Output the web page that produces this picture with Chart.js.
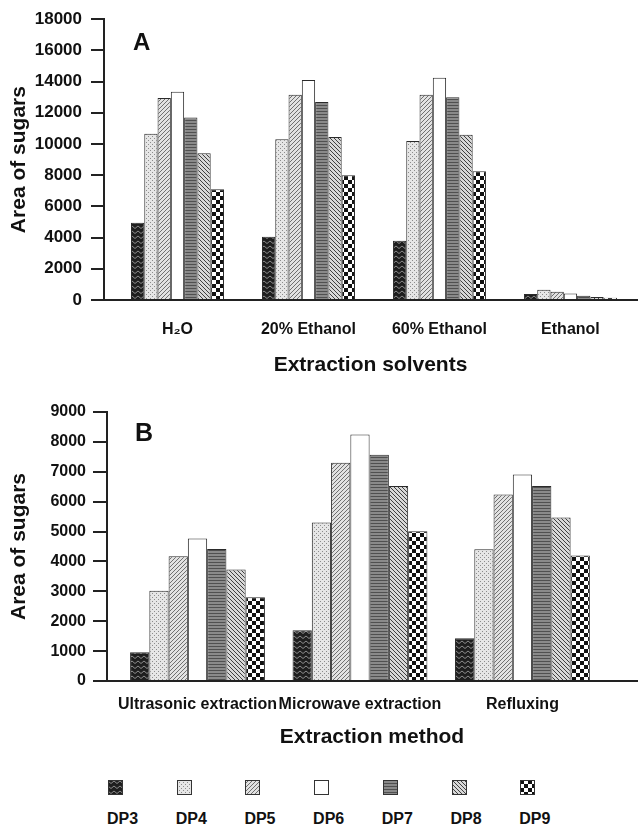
<!DOCTYPE html>
<html lang="en">
<head>
<meta charset="utf-8">
<title>Area of sugars - extraction solvents and methods</title>
<script src="https://cdn.jsdelivr.net/npm/chart.js@4.4.1/dist/chart.umd.min.js"></script>
<style>
  body { margin: 0; background: #fff; }
  #page { position: relative; width: 639px; height: 826px; font-family: "Liberation Sans", Arial, Helvetica, sans-serif; color: #111; }
  canvas { display: block; }
  .panel { position: absolute; font-weight: bold; line-height: 1; }
  #legend { position: absolute; left: 0; top: 750px; width: 639px; height: 76px; }
  .item { position: absolute; top: 30px; width: 40px; height: 46px; }
  .item span { position: absolute; left: -1px; top: 31px; font-weight: bold; font-size: 16px; line-height: 16px; white-space: nowrap; }
</style>
</head>
<body>
<div id="page">
  <canvas id="chart-a" width="639" height="385"></canvas>
  <canvas id="chart-b" width="639" height="365"></canvas>
  <div class="panel" style="left:133px; top:30px; font-size:24px;">A</div>
  <div class="panel" style="left:135px; top:420px; font-size:25px;">B</div>
  <div id="legend"></div>
</div>
<script>
// Categorías y series
const solvents = ['H\u2082O', '20% Ethanol', '60% Ethanol', 'Ethanol'];
const methods = ['Ultrasonic extraction', 'Microwave extraction', 'Refluxing'];
const sugarNames = ['DP3', 'DP4', 'DP5', 'DP6', 'DP7', 'DP8', 'DP9'];

// Panel A: un array por oligosacárido, un valor por disolvente
const dp3A = [4950, 4050, 3800, 380];
const dp4A = [10650, 10300, 10200, 650];
const dp5A = [12950, 13150, 13150, 530];
const dp6A = [13350, 14100, 14250, 420];
const dp7A = [11700, 12700, 13000, 280];
const dp8A = [9400, 10450, 10600, 190];
const dp9A = [7100, 8000, 8250, 150];

// Panel B: un valor por método de extracción
const dp3B = [960, 1700, 1430];
const dp4B = [3020, 5300, 4410];
const dp5B = [4170, 7300, 6240];
const dp6B = [4770, 8250, 6910];
const dp7B = [4420, 7570, 6520];
const dp8B = [3730, 6520, 5470];
const dp9B = [2800, 5010, 4200];

const yTicksA = [0, 2000, 4000, 6000, 8000, 10000, 12000, 14000, 16000, 18000];
const yTicksB = [0, 1000, 2000, 3000, 4000, 5000, 6000, 7000, 8000, 9000];

const FONT = '"Liberation Sans", Arial, Helvetica, sans-serif';
Chart.defaults.font.family = FONT;
Chart.defaults.font.weight = 'bold';
Chart.defaults.color = '#111';

/**
 * Crea un patrón de relleno en blanco y negro para las barras.
 */
function makePattern(kind) {
  const c = document.createElement('canvas');
  const g = c.getContext('2d');
  if (kind === 'wave') {
    c.width = 6; c.height = 5;
    g.fillStyle = '#1e1e1e'; g.fillRect(0, 0, 6, 5);
    g.strokeStyle = '#8c8c8c'; g.lineWidth = 1;
    g.beginPath(); g.moveTo(0, 1); g.lineTo(3, 3.5); g.lineTo(6, 1); g.stroke();
  } else if (kind === 'dots') {
    c.width = 4; c.height = 4;
    g.fillStyle = '#e6e6e6'; g.fillRect(0, 0, 4, 4);
    g.fillStyle = '#8c8c8c';
    g.fillRect(0, 0, 1, 1); g.fillRect(2, 2, 1, 1);
  } else if (kind === 'fwd') {
    c.width = 4; c.height = 4;
    g.fillStyle = '#e2e2e2'; g.fillRect(0, 0, 4, 4);
    g.strokeStyle = '#707070'; g.lineWidth = 1;
    g.beginPath(); g.moveTo(-1, 5); g.lineTo(5, -1); g.stroke();
  } else if (kind === 'hlines') {
    c.width = 2; c.height = 3;
    g.fillStyle = '#8a8a8a'; g.fillRect(0, 0, 2, 3);
    g.fillStyle = '#505050'; g.fillRect(0, 0, 2, 1);
  } else if (kind === 'back') {
    c.width = 4; c.height = 4;
    g.fillStyle = '#d8d8d8'; g.fillRect(0, 0, 4, 4);
    g.strokeStyle = '#404040'; g.lineWidth = 1;
    g.beginPath(); g.moveTo(-1, -1); g.lineTo(5, 5); g.stroke();
  } else if (kind === 'check') {
    c.width = 8; c.height = 8;
    g.fillStyle = '#fff'; g.fillRect(0, 0, 8, 8);
    g.fillStyle = '#111';
    g.fillRect(0, 0, 4, 4); g.fillRect(4, 4, 4, 4);
  } else {
    c.width = 2; c.height = 2;
    g.fillStyle = '#fff'; g.fillRect(0, 0, 2, 2);
  }
  return g.createPattern(c, 'repeat');
}

const patternKinds = ['wave', 'dots', 'fwd', 'plain', 'hlines', 'back', 'check'];
const patterns = patternKinds.map(makePattern);

function makeDatasets(seriesList) {
  return seriesList.map((values, i) => ({
    label: sugarNames[i],
    data: values.map((v, k) => ({ x: k + 1, y: v })),
    backgroundColor: patterns[i],
    borderColor: '#2a2a2a',
    borderWidth: 1,
  }));
}

/**
 * Dibuja un diagrama de barras agrupadas con eje x lineal (para poder
 * desplazar los grupos como en la figura original).
 */
function createGroupedBarChart(canvasId, cfg) {
  const ctx = document.getElementById(canvasId).getContext('2d');
  return new Chart(ctx, {
    type: 'bar',
    data: { datasets: makeDatasets(cfg.series) },
    options: {
      responsive: false,
      animation: false,
      devicePixelRatio: 1,
      categoryPercentage: cfg.groupPct,
      barPercentage: 1,
      layout: { padding: { top: cfg.padTop, right: 2, bottom: 0, left: 0 } },
      plugins: { legend: { display: false }, tooltip: { enabled: false } },
      scales: {
        x: {
          type: 'linear',
          offset: false,
          bounds: 'data',
          min: cfg.xMin,
          max: cfg.xMax,
          afterBuildTicks: s => { s.ticks = cfg.labels.map((_, i) => ({ value: i + 1 })); },
          afterFit: s => { s.height = cfg.xHeight; },
          grid: { display: false, drawTicks: false, tickLength: 0 },
          border: { display: true, color: '#222', width: 2 },
          ticks: {
            autoSkip: false,
            maxRotation: 0,
            padding: cfg.xTickPad,
            font: { size: 16, weight: 'bold' },
            color: '#111',
            callback: v => cfg.labels[v - 1],
          },
          title: {
            display: true,
            text: cfg.xTitle,
            font: { size: 21, weight: 'bold' },
            color: '#111',
            padding: { top: 0, bottom: cfg.xTitlePad },
          },
        },
        y: {
          min: 0,
          max: cfg.yTicks[cfg.yTicks.length - 1],
          afterBuildTicks: s => { s.ticks = cfg.yTicks.map(v => ({ value: v })); },
          afterFit: s => { s.width = cfg.yWidth; },
          grid: { drawOnChartArea: false, drawTicks: true, tickLength: cfg.tickLen, color: '#222', lineWidth: 2 },
          border: { display: true, color: '#222', width: 2 },
          ticks: {
            padding: cfg.yTickPad,
            font: { size: cfg.yTickSize, weight: 'bold' },
            color: '#111',
            callback: v => String(v),
          },
          title: {
            display: true,
            text: 'Area of sugars',
            font: { size: 21, weight: 'bold' },
            color: '#111',
            padding: { top: 7, bottom: 0 },
          },
        },
      },
    },
  });
}

createGroupedBarChart('chart-a', {
  labels: solvents,
  series: [dp3A, dp4A, dp5A, dp6A, dp7A, dp8A, dp9A],
  yTicks: yTicksA,
  xTitle: 'Extraction solvents',
  xMin: 0.439, xMax: 4.508,
  groupPct: 0.71,
  padTop: 17,
  yWidth: 104, xHeight: 85,
  tickLen: 13, yTickPad: 9, yTickSize: 17,
  xTickPad: 20, xTitlePad: 7,
});

createGroupedBarChart('chart-b', {
  labels: methods,
  series: [dp3B, dp4B, dp5B, dp6B, dp7B, dp8B, dp9B],
  yTicks: yTicksB,
  xTitle: 'Extraction method',
  xMin: 0.443, xMax: 3.705,
  groupPct: 0.83,
  padTop: 27,
  yWidth: 107, xHeight: 69,
  tickLen: 14, yTickPad: 7, yTickSize: 16,
  xTickPad: 14, xTitlePad: 0,
});

// Leyenda en HTML con las mismas tramas
const legend = document.getElementById('legend');
sugarNames.forEach((name, i) => {
  const item = document.createElement('div');
  item.className = 'item';
  item.style.left = (108 + i * 68.7) + 'px';
  const sw = document.createElement('canvas');
  sw.width = 15; sw.height = 15;
  const g = sw.getContext('2d');
  g.fillStyle = patterns[i];
  g.fillRect(0, 0, 15, 15);
  g.strokeStyle = '#333'; g.lineWidth = 1;
  g.strokeRect(0.5, 0.5, 14, 14);
  const label = document.createElement('span');
  label.textContent = name;
  item.appendChild(sw);
  item.appendChild(label);
  legend.appendChild(item);
});
</script>
</body>
</html>
